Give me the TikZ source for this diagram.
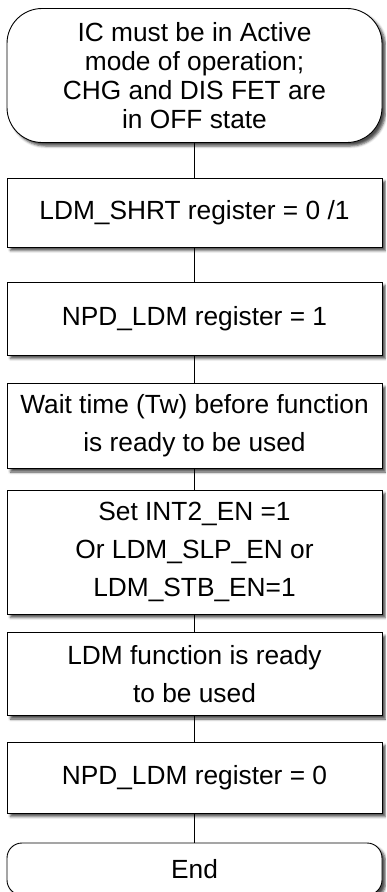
\documentclass[tikz,border=0pt]{standalone}
\usepackage{fontspec}
\setmainfont{Liberation Sans}
\usetikzlibrary{shadows.blur}
\begin{document}
\begin{tikzpicture}[x=1pt,y=-1pt,
  shade/.style={blur shadow={shadow xshift=3.5pt, shadow yshift=-3.5pt, shadow blur radius=2.5pt, shadow opacity=70}},
  box/.style={draw, line width=0.9pt, fill=white, minimum width=375pt, align=center, inner sep=0pt, shade, font=\fontsize{26.3}{38}\selectfont},
  startbox/.style={box, rounded corners=35pt, font=\fontsize{26.3}{29}\selectfont},
  endbox/.style={box, rounded corners=15pt},
  link/.style={draw, line width=0.8pt}
]
\useasboundingbox (0,0) rectangle (386,892);
\clip (0,0) rectangle (386,892);
\node[startbox, minimum height=134pt] (s) at (194.5,75.5) {IC must be in Active\\mode of operation;\\CHG and DIS FET are\\in OFF state};
\node[box, minimum height=69pt] (b1) at (194.5,212.5) {LDM\_SHRT register = 0 /1};
\node[box, minimum height=73pt] (b2) at (194.5,318.5) {NPD\_LDM register = 1};
\node[box, minimum height=85pt] (b3) at (194.5,426) {Wait time (Tw) before function\\is ready to be used};
\node[box, minimum height=124pt] (b4) at (194.5,552) {Set INT2\_EN =1\\Or LDM\_SLP\_EN or\\LDM\_STB\_EN=1};
\node[box, minimum height=83pt] (b5) at (194.5,674) {LDM function is ready\\to be used};
\node[box, minimum height=71pt] (b6) at (194.5,777.5) {NPD\_LDM register = 0};
\node[endbox, minimum height=52pt] (e) at (194.5,869) {End};
\draw[link] (s.south) -- (b1.north);
\draw[link] (b1.south) -- (b2.north);
\draw[link] (b2.south) -- (b3.north);
\draw[link] (b3.south) -- (b4.north);
\draw[link] (b4.south) -- (b5.north);
\draw[link] (b5.south) -- (b6.north);
\draw[link] (b6.south) -- (e.north);
\end{tikzpicture}
\end{document}
